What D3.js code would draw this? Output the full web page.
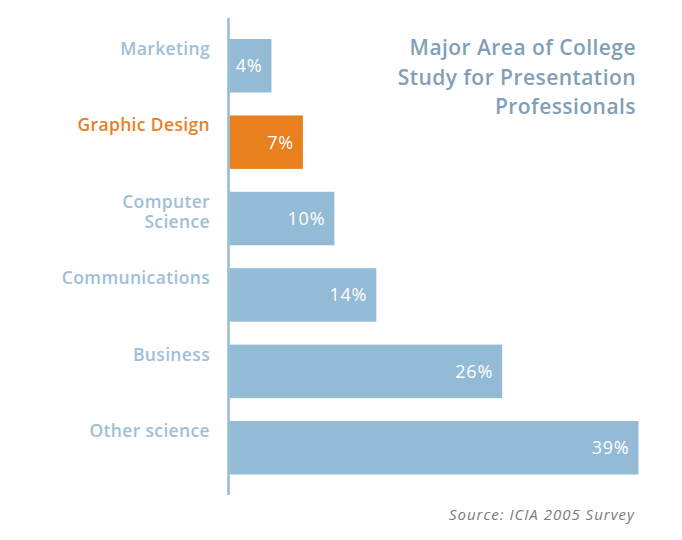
<!DOCTYPE html>
<html>
<head>
<meta charset="utf-8">
<script src="https://cdn.jsdelivr.net/npm/d3@7"></script>
<style>
  html, body { margin: 0; padding: 0; background: #fff; }
  svg { display: block; }
</style>
</head>
<body>
<svg id="chart" width="682" height="540"></svg>
<script>
const categories = ["Marketing", "Graphic Design", "Computer Science", "Communications", "Business", "Other science"];
const labelLines = [["Marketing"], ["Graphic Design"], ["Computer", "Science"], ["Communications"], ["Business"], ["Other science"]];
const values = [4, 7, 10, 14, 26, 39];
const highlight = ["Graphic Design"];
const titleLines = ["Major Area of College", "Study for Presentation", "Professionals"];
const sourceText = "Source: ICIA 2005 Survey";

const BLUE = "#94bbd5", ORANGE = "#e8801e", LABEL_BLUE = "#9dc0d8", TITLE = "#819fb6";
const FONT = "'Open Sans', sans-serif";

const svg = d3.select("#chart");

const x = d3.scaleLinear().domain([0, 39]).range([229.5, 638.5]);
const y = d3.scaleBand().domain(categories).range([39, 474.5]).paddingInner(0.3).paddingOuter(0);

// bars
svg.selectAll("rect.bar").data(categories).join("rect")
  .attr("class", "bar")
  .attr("x", x(0))
  .attr("y", d => y(d))
  .attr("width", (d, i) => x(values[i]) - x(0))
  .attr("height", y.bandwidth())
  .attr("fill", d => highlight.includes(d) ? ORANGE : BLUE);

// value labels
svg.selectAll("text.val").data(categories).join("text")
  .attr("class", "val")
  .attr("x", (d, i) => x(values[i]) - 9)
  .attr("y", d => y(d) + y.bandwidth() / 2 + 6.5)
  .attr("text-anchor", "end")
  .attr("fill", "#fff")
  .style("font-family", FONT)
  .style("font-size", "18px")
  .style("letter-spacing", "0.8px")
  .text((d, i) => values[i] + "%");

// axis line
svg.append("line")
  .attr("x1", 228.5).attr("x2", 228.5)
  .attr("y1", 18).attr("y2", 495)
  .attr("stroke", BLUE).attr("stroke-width", 2.5);

// category labels
const cat = svg.selectAll("text.cat").data(categories).join("text")
  .attr("class", "cat")
  .attr("text-anchor", "end")
  .attr("fill", d => highlight.includes(d) ? ORANGE : LABEL_BLUE)
  .style("font-family", FONT)
  .style("font-size", "17.5px")
  .style("font-weight", "600")
  .style("letter-spacing", "0.35px");
cat.each(function(d, i) {
  d3.select(this).selectAll("tspan").data(labelLines[i]).join("tspan")
    .attr("x", 210)
    .attr("y", (l, j) => y(d) + 16 + j * 20.5)
    .text(l => l);
});

// title
svg.append("text")
  .attr("text-anchor", "end")
  .attr("fill", TITLE)
  .style("font-family", FONT)
  .style("font-size", "21px")
  .style("font-weight", "600")
  .style("letter-spacing", "0.45px")
  .selectAll("tspan").data(titleLines).join("tspan")
  .attr("x", 636)
  .attr("y", (d, i) => 55 + i * 29.5)
  .text(d => d);

// source
svg.append("text")
  .attr("x", 635).attr("y", 520)
  .attr("text-anchor", "end")
  .attr("fill", "#7b7b7b")
  .style("font-family", FONT)
  .style("font-size", "15px")
  .style("font-style", "italic")
  .style("letter-spacing", "1px")
  .text(sourceText);
</script>
</body>
</html>
